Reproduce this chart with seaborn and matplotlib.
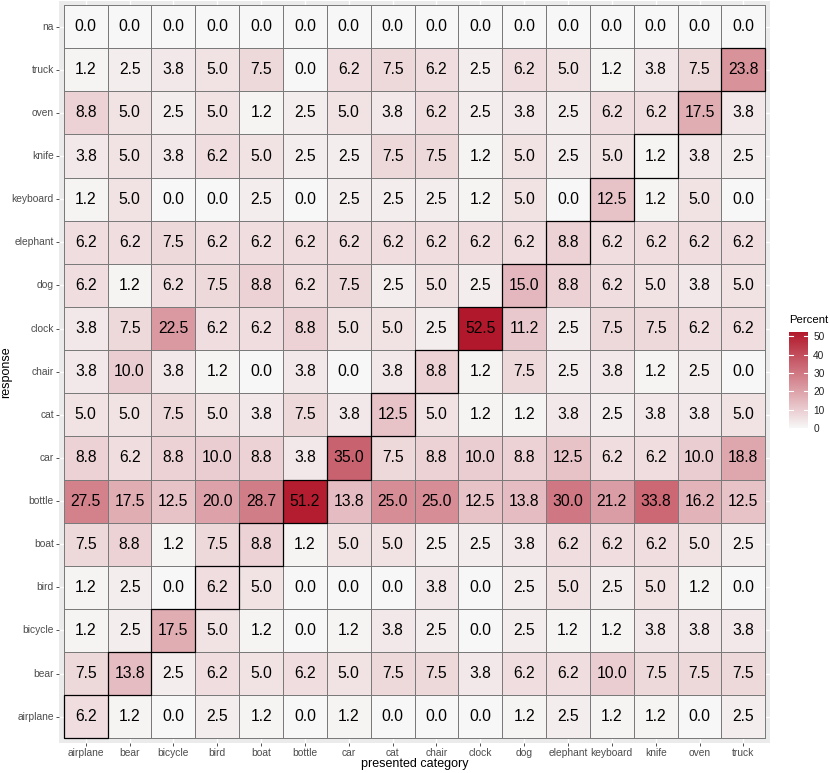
import matplotlib
matplotlib.use("Agg")
import matplotlib.pyplot as plt
import matplotlib.patches as mpatches
from matplotlib.colors import LinearSegmentedColormap
import pandas as pd
import seaborn as sns

categories = ['airplane', 'bear', 'bicycle', 'bird', 'boat', 'bottle', 'car', 'cat',
              'chair', 'clock', 'dog', 'elephant', 'keyboard', 'knife', 'oven', 'truck']

# response rows, top to bottom as drawn
responses = ['na', 'truck', 'oven', 'knife', 'keyboard', 'elephant', 'dog', 'clock',
             'chair', 'cat', 'car', 'bottle', 'boat', 'bird', 'bicycle', 'bear', 'airplane']

na       = [0.0] * 16
truck    = [1.2, 2.5, 3.8, 5.0, 7.5, 0.0, 6.2, 7.5, 6.2, 2.5, 6.2, 5.0, 1.2, 3.8, 7.5, 23.8]
oven     = [8.8, 5.0, 2.5, 5.0, 1.2, 2.5, 5.0, 3.8, 6.2, 2.5, 3.8, 2.5, 6.2, 6.2, 17.5, 3.8]
knife    = [3.8, 5.0, 3.8, 6.2, 5.0, 2.5, 2.5, 7.5, 7.5, 1.2, 5.0, 2.5, 5.0, 1.2, 3.8, 2.5]
keyboard = [1.2, 5.0, 0.0, 0.0, 2.5, 0.0, 2.5, 2.5, 2.5, 1.2, 5.0, 0.0, 12.5, 1.2, 5.0, 0.0]
elephant = [6.2, 6.2, 7.5, 6.2, 6.2, 6.2, 6.2, 6.2, 6.2, 6.2, 6.2, 8.8, 6.2, 6.2, 6.2, 6.2]
dog      = [6.2, 1.2, 6.2, 7.5, 8.8, 6.2, 7.5, 2.5, 5.0, 2.5, 15.0, 8.8, 6.2, 5.0, 3.8, 5.0]
clock    = [3.8, 7.5, 22.5, 6.2, 6.2, 8.8, 5.0, 5.0, 2.5, 52.5, 11.2, 2.5, 7.5, 7.5, 6.2, 6.2]
chair    = [3.8, 10.0, 3.8, 1.2, 0.0, 3.8, 0.0, 3.8, 8.8, 1.2, 7.5, 2.5, 3.8, 1.2, 2.5, 0.0]
cat      = [5.0, 5.0, 7.5, 5.0, 3.8, 7.5, 3.8, 12.5, 5.0, 1.2, 1.2, 3.8, 2.5, 3.8, 3.8, 5.0]
car      = [8.8, 6.2, 8.8, 10.0, 8.8, 3.8, 35.0, 7.5, 8.8, 10.0, 8.8, 12.5, 6.2, 6.2, 10.0, 18.8]
bottle   = [27.5, 17.5, 12.5, 20.0, 28.7, 51.2, 13.8, 25.0, 25.0, 12.5, 13.8, 30.0, 21.2, 33.8, 16.2, 12.5]
boat     = [7.5, 8.8, 1.2, 7.5, 8.8, 1.2, 5.0, 5.0, 2.5, 2.5, 3.8, 6.2, 6.2, 6.2, 5.0, 2.5]
bird     = [1.2, 2.5, 0.0, 6.2, 5.0, 0.0, 0.0, 0.0, 3.8, 0.0, 2.5, 5.0, 2.5, 5.0, 1.2, 0.0]
bicycle  = [1.2, 2.5, 17.5, 5.0, 1.2, 0.0, 1.2, 3.8, 2.5, 0.0, 2.5, 1.2, 1.2, 3.8, 3.8, 3.8]
bear     = [7.5, 13.8, 2.5, 6.2, 5.0, 6.2, 5.0, 7.5, 7.5, 3.8, 6.2, 6.2, 10.0, 7.5, 7.5, 7.5]
airplane = [6.2, 1.2, 0.0, 2.5, 1.2, 0.0, 1.2, 0.0, 0.0, 0.0, 1.2, 2.5, 1.2, 1.2, 0.0, 2.5]

df = pd.DataFrame([na, truck, oven, knife, keyboard, elephant, dog, clock, chair, cat,
                   car, bottle, boat, bird, bicycle, bear, airplane],
                  index=responses, columns=categories)

cmap = LinearSegmentedColormap.from_list('wr', ['#F7F7F7', '#B2182B'])

plt.rcParams['font.family'] = ['Liberation Sans', 'DejaVu Sans']

fig = plt.figure(figsize=(8.3, 7.73), dpi=100)
ax = fig.add_axes([0.0716, 0.0393, 0.8557, 0.9597])
cax = fig.add_axes([0.951, 0.4463, 0.0222, 0.1245])

ax.set_facecolor('#EBEBEB')
sns.heatmap(df, ax=ax, cbar_ax=cax, cmap=cmap, vmin=0, vmax=52.5,
            annot=True, fmt='.1f', annot_kws={'size': 11.3, 'color': 'black'},
            linewidths=0.6, linecolor='#7A7A7A')

# diagonal: presented category == response
for j, c in enumerate(categories):
    i = responses.index(c)
    ax.add_patch(mpatches.Rectangle((j, i), 1, 1, fill=False, edgecolor='black', lw=0.9, zorder=5))

ax.set_xlim(-0.1, 16.1)
ax.set_ylim(17.1, -0.1)
for k in range(16):
    ax.axvline(k + 0.5, color='white', lw=1.0, zorder=0)
for k in range(17):
    ax.axhline(k + 0.5, color='white', lw=1.0, zorder=0)
for s in ax.spines.values():
    s.set_visible(False)

ax.set_xlabel('presented category', fontsize=9, va='top')
ax.set_ylabel('response', fontsize=9)
ax.xaxis.set_label_coords(0.5, -0.0212)
ax.yaxis.set_label_coords(-0.0665, 0.5)
ax.tick_params(axis='both', length=2.5, width=0.6, color='#333333', labelcolor='#4D4D4D',
               labelsize=7.4, pad=1.5)
ax.tick_params(axis='y', rotation=0)
ax.tick_params(axis='x', rotation=0)

cb = ax.collections[0].colorbar
cb.outline.set_visible(False)
cb.set_ticks([0, 10, 20, 30, 40, 50])
cax.tick_params(length=0, labelsize=7.3, labelcolor='#222222', pad=4)
for v in [0, 10, 20, 30, 40, 50]:
    cax.plot([0, 0.2], [v, v], color='white', lw=0.8, transform=cax.get_yaxis_transform())
    cax.plot([0.8, 1.0], [v, v], color='white', lw=0.8, transform=cax.get_yaxis_transform())
fig.text(0.951, 0.579, 'Percent', fontsize=8.2, ha='left', va='bottom')

fig.savefig('out.png', dpi=100)
